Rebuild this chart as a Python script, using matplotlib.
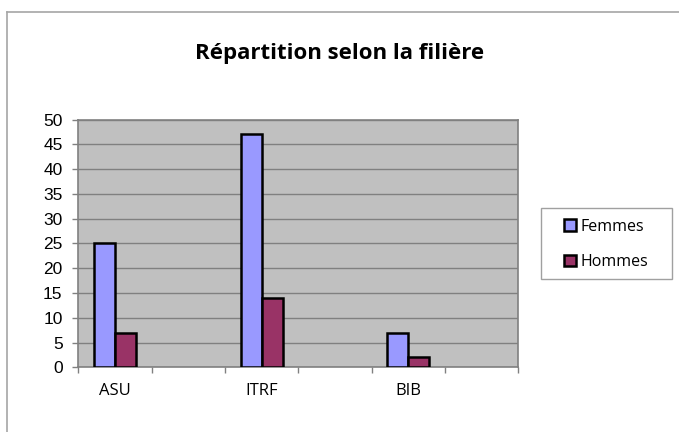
import numpy as np
import matplotlib
matplotlib.use("Agg")
import matplotlib.pyplot as plt
from matplotlib.lines import Line2D
from matplotlib.patches import Patch, Rectangle

# --- data ---------------------------------------------------------------
categories = ["ASU", "", "ITRF", "", "BIB", ""]
femmes = [25, None, 47, None, 7, None]
hommes = [7, None, 14, None, 2, None]
series_names = ["Femmes", "Hommes"]

W, H = 679, 432
fig = plt.figure(figsize=(W / 100, H / 100), dpi=100)
fig.patch.set_facecolor("white")

# plot area in pixel coords of the reference
x0, x1, y_top, y_bot = 78.3, 518.3, 119.5, 367.3
ax = fig.add_axes([x0 / W, 1 - y_bot / H, (x1 - x0) / W, (y_bot - y_top) / H])
ax.set_facecolor("#C0C0C0")

n = len(categories)
bar_w = 1 / 1.75 / 2          # two bars, gap width 75 %
idx = np.arange(n)

def clean(vals):
    return [np.nan if v is None else v for v in vals]

ax.bar(idx - bar_w / 2, clean(femmes), bar_w, color="#9999FF",
       edgecolor="black", linewidth=1.8, zorder=3)
ax.bar(idx + bar_w / 2, clean(hommes), bar_w, color="#993366",
       edgecolor="black", linewidth=1.8, zorder=3)

ax.set_xlim(-0.5, n - 0.5)
ax.set_ylim(0, 50)
ax.set_yticks(np.arange(0, 51, 5))
ax.yaxis.grid(True, color="#808080", linewidth=1, zorder=1)
ax.set_axisbelow(True)

# category ticks sit on the slot boundaries, labels in the middle
ax.set_xticks(np.arange(-0.5, n, 1.0))
ax.set_xticklabels([])
ax.set_xticks(idx, minor=True)
ax.set_xticklabels(categories, minor=True, fontfamily="Open Sans", fontsize=12)
ax.tick_params(axis="x", which="major", length=4.5, width=1,
               color="#808080", direction="out")
ax.tick_params(axis="x", which="minor", length=0, pad=11)
ax.tick_params(axis="y", length=4.3, width=1, color="#808080",
               direction="out", pad=7.0, labelsize=12.5)
for lab in ax.get_yticklabels():
    lab.set_fontfamily("Liberation Sans")

for s in ax.spines.values():
    s.set_color("#808080")
    s.set_linewidth(1.2)

# --- title --------------------------------------------------------------
fig.text(340 / W, 1 - 53.5 / H, "Répartition selon la filière",
         ha="center", va="center", fontfamily="Open Sans",
         fontweight="bold", fontsize=16)

# --- legend -------------------------------------------------------------
lx0, lx1, ly0, ly1 = 541, 672, 208, 279
fig.add_artist(Rectangle((lx0 / W, 1 - ly1 / H), (lx1 - lx0) / W,
                         (ly1 - ly0) / H, transform=fig.transFigure,
                         facecolor="white", edgecolor="#A0A0A0",
                         linewidth=1.0))
handles = [Patch(facecolor="#9999FF", edgecolor="black", linewidth=1.8),
           Patch(facecolor="#993366", edgecolor="black", linewidth=1.8)]
leg = fig.legend(handles, series_names, loc="center",
                 bbox_to_anchor=(606 / W, 1 - 244.5 / H),
                 frameon=False, handlelength=0.75,
                 handleheight=0.75, handletextpad=0.25, labelspacing=1.2,
                 borderpad=0, borderaxespad=0,
                 prop={"family": "Open Sans", "size": 11.5})

# --- outer chart border (only left and top visible) ---------------------
fig.add_artist(Line2D([7.3 / W, 7.3 / W], [0, 1 - 12 / H],
                      color="#A6A6A6", linewidth=1.2))
fig.add_artist(Line2D([7.3 / W, 1], [1 - 12 / H, 1 - 12 / H],
                      color="#A6A6A6", linewidth=1.2))

fig.savefig("out.png", dpi=100)
